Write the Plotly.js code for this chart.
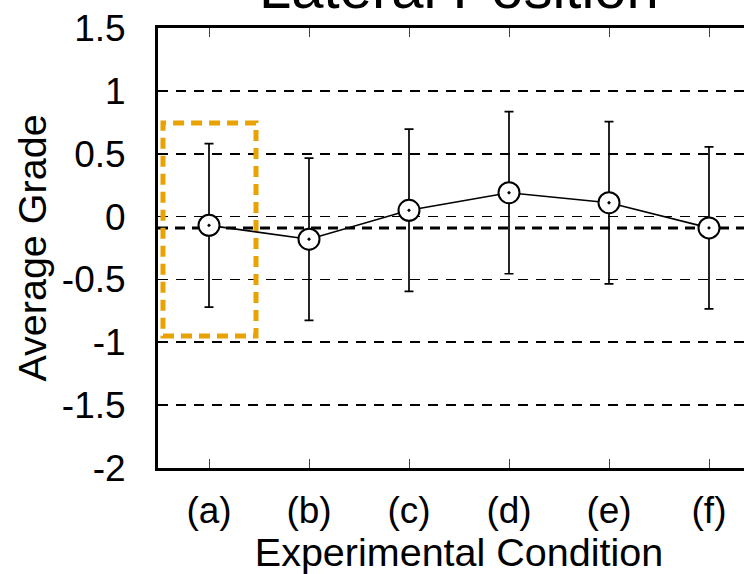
<!DOCTYPE html>
<html>
<head>
<meta charset="utf-8">
<script src="https://cdn.plot.ly/plotly-3.0.1.min.js"></script>
<style>
  html, body { margin: 0; padding: 0; overflow: hidden; background: #fff; width: 744px; height: 574px; }
  #chart { position: absolute; left: 0; top: -60px; width: 800px; height: 634px; }
</style>
</head>
<body>
<div id="chart"></div>
<script>
// ---- data ----
const conditions = ["(a)", "(b)", "(c)", "(d)", "(e)", "(f)"];
const meanGrade  = [-0.07, -0.18, 0.05, 0.19, 0.11, -0.09];
const errGrade   = [0.65, 0.645, 0.645, 0.645, 0.645, 0.645];
const yTickVals  = [-2, -1.5, -1, -0.5, 0, 0.5, 1, 1.5];
const yTickText  = ["-2", "-1.5", "-1", "-0.5", "0", "0.5", "1", "1.5"];
const refLineY   = -0.09;
const highlightBox = { x0: -0.46, x1: 0.47, y0: -0.95, y1: 0.745 };
const chartTitle = "Lateral Position";

const FONT = "Liberation Sans, Arial, sans-serif";

const trace = {
  type: "scatter",
  mode: "lines+markers",
  x: conditions,
  y: meanGrade,
  error_y: { type: "data", array: errGrade, visible: true, color: "#000", thickness: 1.7, width: 4.5 },
  line: { color: "#000", width: 1.6 },
  marker: { symbol: "circle-dot", size: 21, color: "#fff", line: { color: "#000", width: 2 } },
  cliponaxis: false,
  showlegend: false
};

const layout = {
  width: 800, height: 634,
  margin: { l: 158, r: 40, t: 88, b: 106 },
  paper_bgcolor: "#fff", plot_bgcolor: "#fff",
  font: { family: FONT, color: "#000", size: 37 },
  xaxis: {
    type: "category",
    range: [-0.51, 5.51],
    showline: true, linecolor: "#000", linewidth: 3, mirror: "ticks",
    ticks: "inside", ticklen: 9, tickwidth: 1, tickcolor: "#444",
    showgrid: false, zeroline: false,
    tickfont: { family: FONT, size: 37, color: "#000" },
    ticklabelstandoff: 8,
    title: { text: "Experimental Condition", font: { family: FONT, size: 39.5, color: "#000" }, standoff: 2 }
  },
  yaxis: {
    range: [-2, 1.5],
    tickmode: "array", tickvals: yTickVals, ticktext: yTickText,
    showline: true, linecolor: "#000", linewidth: 3, mirror: true,
    ticks: "", showgrid: true, gridcolor: "#000", gridwidth: 1.7, griddash: "10px,8px",
    zeroline: false,
    tickfont: { family: FONT, size: 37, color: "#000" },
    ticklabelstandoff: 22,
    title: { text: "Average Grade", font: { family: FONT, size: 39.5, color: "#000" }, standoff: 4 }
  },
  shapes: [
    { type: "line", xref: "paper", x0: 0, x1: 1, yref: "y", y0: refLineY, y1: refLineY,
      line: { color: "#000", width: 3, dash: "10px,7px" }, layer: "below" },
    { type: "rect", xref: "x", yref: "y",
      x0: highlightBox.x0, x1: highlightBox.x1, y0: highlightBox.y0, y1: highlightBox.y1,
      line: { color: "#E8A202", width: 5, dash: "11px,7px" }, fillcolor: "rgba(0,0,0,0)", layer: "above" }
  ],
  annotations: [
    { text: chartTitle, xref: "paper", yref: "paper", x: 0.5, y: 1.014, xanchor: "center", yanchor: "bottom",
      showarrow: false, font: { family: FONT, size: 58, color: "#000" } }
  ]
};

Plotly.newPlot("chart", [trace], layout, { staticPlot: true, displayModeBar: false });
</script>
</body>
</html>
